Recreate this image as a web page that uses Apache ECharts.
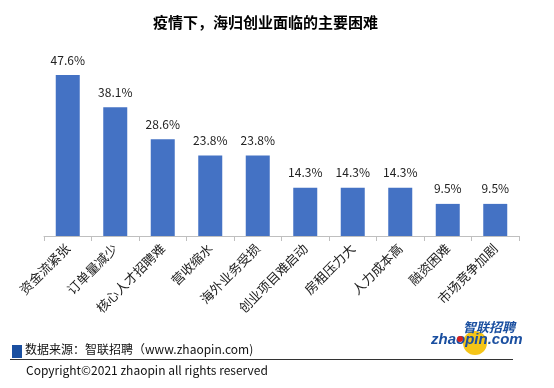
<!DOCTYPE html>
<html><head><meta charset="utf-8">
<script src="https://cdn.jsdelivr.net/npm/echarts@6/dist/echarts.min.js"></script>
<style>html,body{margin:0;padding:0;background:#fff}#c{width:554px;height:388px}</style>
</head><body><div id="c"></div>
<script>
const categories = ['资金流紧张','订单量减少','核心人才招聘难','营收缩水','海外业务受损','创业项目难启动','房租压力大','人力成本高','融资困难','市场竞争加剧'];
const values = [47.6, 38.1, 28.6, 23.8, 23.8, 14.3, 14.3, 14.3, 9.5, 9.5];
const FONT = '"Microsoft YaHei","Noto Sans CJK SC",sans-serif';
const chart = echarts.init(document.getElementById('c'));
chart.setOption({
  backgroundColor: '#fff',
  animation: false,
  title: {text: '疫情下，海归创业面临的主要困难', left: 148, top: 10,
    textStyle: {fontSize: 15, fontWeight: 'bold', color: '#000', fontFamily: FONT}},
  grid: {left: 44, right: 35, top: 67, bottom: 152},
  xAxis: {type: 'category', data: categories,
    axisLine: {lineStyle: {color: '#bfbfbf'}},
    axisTick: {show: true, length: 5, lineStyle: {color: '#bfbfbf'}},
    axisLabel: {rotate: 45, interval: 0, fontSize: 13, color: '#222', fontFamily: FONT, margin: 10}},
  yAxis: {type: 'value', min: 0, max: 50, show: false, splitLine: {show: false}},
  series: [{type: 'bar', data: values, barWidth: 24, itemStyle: {color: '#4472C4'},
    label: {show: true, position: 'top', distance: 9, formatter: p => p.value.toFixed(1) + '%',
      fontSize: 12, color: '#222', fontFamily: FONT}}],
  graphic: [
    {type: 'rect', shape: {x: 12, y: 345, width: 10, height: 13}, style: {fill: '#1a4fa0'}},
    {type: 'text', left: 25, top: 343, style: {text: '数据来源：智联招聘（www.zhaopin.com)', fontSize: 12, fill: '#111', fontFamily: FONT}},
    {type: 'line', shape: {x1: 10, y1: 359.5, x2: 513, y2: 359.5}, style: {stroke: '#333', lineWidth: 1}},
    {type: 'text', left: 26, top: 364, style: {text: 'Copyright©2021 zhaopin all rights reserved', fontSize: 12, fill: '#111', fontFamily: FONT}},
    {type: 'circle', shape: {cx: 475, cy: 343, r: 12}, style: {fill: '#f5c518'}},
    {type: 'text', left: 463, top: 321, style: {text: '智联招聘', fontSize: 13, fontWeight: 'bold', fontStyle: 'italic', fill: '#1a4fa0', fontFamily: FONT}},
    {type: 'text', left: 431, top: 332, style: {text: 'zhaopin.com', fontSize: 15, fontWeight: 'bold', fontStyle: 'italic', fill: '#1a4fa0', fontFamily: 'Arial,"Liberation Sans",sans-serif'}},
    {type: 'circle', shape: {cx: 460, cy: 339, r: 3}, style: {fill: '#d62020'}}
  ]
});
</script></body></html>
